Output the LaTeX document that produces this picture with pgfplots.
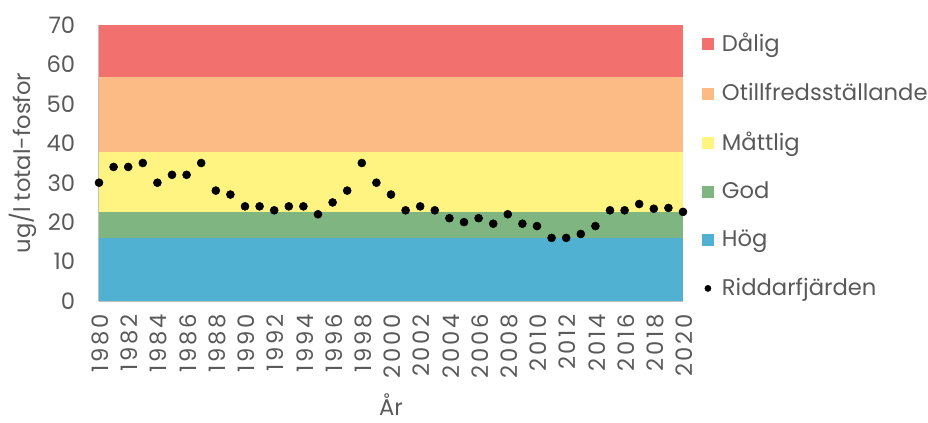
\documentclass[border=0pt]{standalone}
\usepackage{fontspec}
\setmainfont{Poppins}
\newfontfamily\xtickfont{Poppins}[LetterSpace=12]
\usepackage{pgfplots}
\pgfplotsset{compat=1.18}

\definecolor{txt}{HTML}{595959}
\definecolor{dalig}{RGB}{242,112,109}
\definecolor{otill}{RGB}{252,187,132}
\definecolor{mattlig}{RGB}{255,244,130}
\definecolor{god}{RGB}{127,181,129}
\definecolor{hog}{RGB}{80,177,210}

\pgfplotsset{
  band/.style={fill=#1, draw=none,
    legend image code/.code={\fill[#1] (0pt,-4.5pt) rectangle (9pt,4.5pt);
      \path[draw=none, fill=none] (0pt,0pt) -- (13.5pt,0pt);}},
}

\begin{document}
\fontsize{17}{20}\selectfont
\begin{tikzpicture}
\useasboundingbox (-74.25pt,-91.5pt) rectangle (621.75pt,225.75pt);
\begin{axis}[
  scale only axis,
  width=438pt, height=207pt,
  xmin=1980, xmax=2020, ymin=0, ymax=70,
  clip=false,
  axis lines=left,
  axis line style={draw=black!25, line width=1pt, -},
  major tick length=0pt,
  xtick={1980,1982,...,2020},
  ytick={0,10,...,70},
  xticklabel style={rotate=90, anchor=east, xshift=-4pt, yshift=-1pt,
    font=\xtickfont\fontsize{17}{20}\selectfont},
  yticklabel style={xshift=-12pt, font=\fontsize{17}{20}\selectfont},
  /pgf/number format/assume math mode=true,
  /pgf/number format/1000 sep={},
  tick label style={text=txt},
  label style={text=txt, font=\fontsize{17}{20}\selectfont},
  xlabel={År},
  ylabel={ug/l total-fosfor},
  xlabel style={at={(axis description cs:0.5,0)}, anchor=center, yshift=-78pt},
  ylabel style={yshift=-4pt},
  legend style={at={(1,1)}, anchor=north west, xshift=14pt, yshift=-4.5pt,
    draw=none, fill=none, inner sep=0pt, row sep=18pt,
    font=\fontsize{17}{20}\selectfont, text=txt,
    nodes={inner sep=1.5pt}},
  legend cell align=left,
]
\addplot[band=dalig] coordinates {(1980,56.8) (2020,56.8) (2020,70) (1980,70)} -- cycle;
\addplot[band=otill] coordinates {(1980,37.8) (2020,37.8) (2020,56.8) (1980,56.8)} -- cycle;
\addplot[band=mattlig] coordinates {(1980,22.6) (2020,22.6) (2020,37.8) (1980,37.8)} -- cycle;
\addplot[band=god] coordinates {(1980,16.1) (2020,16.1) (2020,22.6) (1980,22.6)} -- cycle;
\addplot[band=hog] coordinates {(1980,0) (2020,0) (2020,16.1) (1980,16.1)} -- cycle;
\addplot[only marks, mark=*, mark size=3pt, black,
  legend image code/.code={\fill[black] (4.5pt,0pt) circle (2.3pt);
    \path[draw=none, fill=none] (0pt,0pt) -- (13.5pt,0pt);}]
coordinates {
(1980,30) (1981,34) (1982,34) (1983,35) (1984,30) (1985,32) (1986,32)
(1987,35) (1988,28) (1989,27) (1990,24) (1991,24) (1992,23) (1993,24)
(1994,24) (1995,22) (1996,25) (1997,28) (1998,35) (1999,30) (2000,27)
(2001,23) (2002,24) (2003,23) (2004,21) (2005,20) (2006,21) (2007,19.6)
(2008,22) (2009,19.6) (2010,19) (2011,16) (2012,16) (2013,17) (2014,19)
(2015,23) (2016,23) (2017,24.6) (2018,23.4) (2019,23.6) (2020,22.6)
};
\legend{Dålig, Otillfredsställande, Måttlig, God, Hög, Riddarfjärden}
\end{axis}
\end{tikzpicture}
\end{document}
